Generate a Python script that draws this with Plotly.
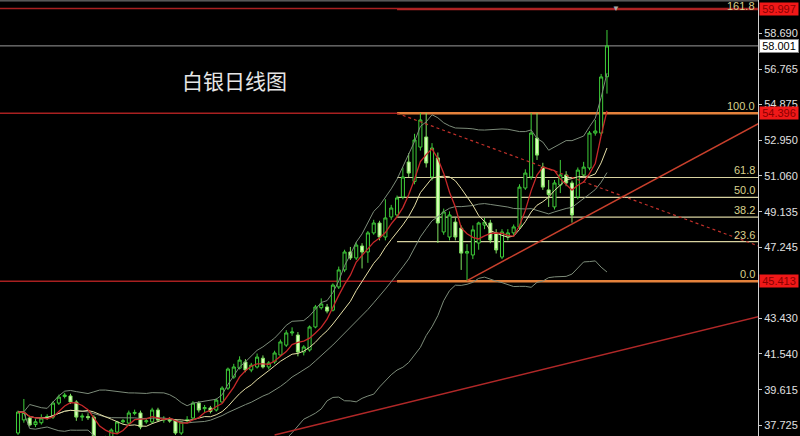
import plotly.graph_objects as go
import pandas as pd

# ---------------- data ----------------
opens = [37.30, 38.00, 38.10, 37.75, 37.85, 38.12, 38.15, 38.90, 39.25, 39.28,
         38.96, 38.15, 38.18, 38.15, 37.05, 36.85, 37.10, 37.35, 37.90, 37.83,
         38.35, 38.37, 37.90, 37.89, 38.53, 37.99, 38.00, 37.99, 37.30, 37.95,
         38.10, 38.90, 38.60, 38.64, 38.53, 38.96, 39.70, 40.29, 40.77, 41.10,
         40.67, 40.83, 41.30, 40.83, 41.10, 41.47, 42.00, 42.65, 42.54, 41.63,
         41.74, 42.97, 44.00, 44.04, 43.87, 45.11, 46.02, 46.98, 46.66, 47.30,
         46.98, 48.00, 48.53, 47.78, 48.85, 48.96, 49.92, 51.79, 50.75, 52.59,
         53.13, 50.99, 52.01, 48.05, 47.78, 48.58, 48.26, 46.92, 46.82, 47.46,
         48.42, 48.53, 48.00, 46.71, 47.78, 48.00, 48.32, 50.40, 50.99, 53.07,
         51.52, 50.30, 49.39, 50.56, 51.10, 50.67, 49.92, 51.10, 51.47, 53.34,
         53.34, 56.35]
highs = [38.50, 39.12, 38.20, 38.05, 38.30, 38.30, 39.00, 39.35, 39.45, 39.40,
         39.05, 38.35, 38.35, 38.25, 37.10, 37.15, 37.55, 37.95, 38.05, 38.50,
         38.55, 38.50, 38.10, 38.65, 38.65, 38.20, 38.15, 38.05, 37.95, 38.20,
         39.00, 39.00, 38.80, 38.75, 39.15, 39.80, 40.80, 41.00, 41.40, 41.25,
         41.05, 41.55, 41.45, 41.15, 41.70, 42.30, 42.80, 42.95, 42.70, 42.00,
         43.05, 44.15, 44.50, 44.20, 45.30, 46.20, 47.10, 47.25, 47.50, 47.45,
         48.10, 48.70, 48.65, 49.80, 49.50, 50.00, 51.50, 52.27, 53.30, 54.41,
         54.41, 52.80, 52.30, 49.30, 49.15, 48.80, 48.40, 47.40, 48.40, 48.60,
         48.80, 48.70, 48.20, 48.20, 48.20, 48.45, 50.60, 51.40, 54.41, 54.41,
         51.75, 50.83, 50.83, 51.90, 51.30, 50.80, 51.50, 51.80, 53.45, 54.04,
         56.50, 58.85]
lows = [37.20, 37.85, 37.65, 37.62, 37.75, 38.00, 38.05, 38.80, 39.15, 38.85,
        37.95, 37.95, 38.00, 36.90, 36.60, 36.70, 37.00, 37.25, 37.80, 37.75,
        38.25, 37.50, 37.80, 37.80, 37.90, 37.85, 37.85, 37.20, 37.20, 37.85,
        38.00, 38.40, 38.40, 38.35, 38.45, 38.90, 39.60, 40.20, 40.70, 40.55,
        40.55, 40.75, 40.75, 40.70, 41.00, 41.40, 41.90, 42.50, 41.40, 41.45,
        41.65, 42.90, 43.90, 43.70, 43.80, 45.00, 45.90, 46.55, 46.55, 46.10,
        46.40, 47.90, 47.60, 47.60, 48.70, 48.80, 49.80, 50.99, 50.60, 52.40,
        51.50, 50.80, 47.46, 47.90, 47.60, 47.60, 46.02, 45.43, 46.60, 47.10,
        48.20, 47.45, 46.90, 46.60, 47.60, 47.85, 48.20, 50.30, 50.85, 51.90,
        50.30, 49.39, 49.25, 50.13, 50.50, 48.55, 49.80, 51.00, 51.35, 53.20,
        53.20, 55.45]
closes = [38.42, 38.40, 37.73, 37.90, 38.10, 38.18, 38.90, 39.22, 39.33, 38.96,
          38.15, 38.20, 38.12, 37.10, 36.80, 37.05, 37.46, 37.89, 37.95, 38.37,
          38.40, 37.62, 37.95, 38.53, 37.99, 38.03, 37.95, 37.30, 37.89, 38.00,
          38.90, 38.53, 38.66, 38.45, 39.06, 39.70, 40.72, 40.83, 41.20, 40.67,
          40.93, 41.36, 40.83, 41.05, 41.58, 42.17, 42.65, 42.70, 41.63, 41.90,
          42.97, 44.04, 44.20, 43.82, 45.21, 46.02, 46.98, 46.66, 47.35, 46.98,
          48.00, 48.53, 47.78, 48.80, 49.33, 49.87, 50.99, 51.20, 52.97, 54.04,
          51.74, 52.54, 48.53, 49.12, 48.96, 47.78, 46.92, 47.00, 48.16, 48.53,
          48.58, 47.62, 47.09, 48.05, 48.00, 48.32, 50.45, 51.20, 53.34, 52.16,
          50.45, 50.05, 50.67, 51.10, 50.67, 48.96, 51.36, 51.52, 53.34, 53.45,
          56.34, 58.00]
bar_index = list(range(len(closes)))

tick_vals = [58.690, 56.765, 54.875, 52.950, 51.060, 49.135, 47.245,
             43.430, 41.540, 39.615, 37.725]
tick_text = ["58.690", "56.765", "54.875", "52.950", "51.060", "49.135", "47.245",
             "43.430", "41.540", "39.615", "37.725"]

fib_ratios = [0.0, 23.6, 38.2, 50.0, 61.8, 100.0, 161.8]
fib_labels = ["0.0", "23.6", "38.2", "50.0", "61.8", "100.0", "161.8"]
fib_low = 45.413
fib_high = 54.396
fib_start_bar = 65

red_levels = [59.997, 54.396, 45.413]
red_labels = ["59.997", "54.396", "45.413"]
current_price = 58.001

trend_dash_x = [65, 127]
trend_dash_y = [54.40, 47.30]
trend_up_x = [77, 127]
trend_up_y = [45.45, 53.85]
trend_low_x = [44, 127]
trend_low_y = [37.19, 43.52]

title_text = "白银日线图"

# ---------------- indicators ----------------
s = pd.Series(closes)
ma5 = s.rolling(5, min_periods=1).mean()
ma10 = s.rolling(10, min_periods=1).mean()
mid20 = s.rolling(20, min_periods=1).mean()
sd20 = s.rolling(20, min_periods=1).std(ddof=0)
upper = mid20 + 2 * sd20
lower = mid20 - 2 * sd20

X_RANGE = [-3.09, 126.9]
Y_RANGE = [37.14, 60.455]

fig = go.Figure()

band_col = "#7d8c7a"
fig.add_trace(go.Scatter(x=bar_index, y=upper, mode="lines", line=dict(color=band_col, width=1), hoverinfo="skip"))
fig.add_trace(go.Scatter(x=bar_index, y=lower, mode="lines", line=dict(color=band_col, width=1), hoverinfo="skip"))
fig.add_trace(go.Scatter(x=bar_index, y=mid20, mode="lines", line=dict(color=band_col, width=1), hoverinfo="skip"))
fig.add_trace(go.Scatter(x=bar_index, y=ma10, mode="lines", line=dict(color="#e6dfa6", width=1), hoverinfo="skip"))
fig.add_trace(go.Scatter(x=bar_index, y=ma5, mode="lines", line=dict(color="#c8282a", width=1.3), hoverinfo="skip"))

shapes = []
for lv in red_levels:
    shapes.append(dict(type="line", xref="paper", x0=0, x1=1, yref="y", y0=lv, y1=lv,
                       line=dict(color="#a82020", width=1.5), layer="below"))
shapes.append(dict(type="line", xref="paper", x0=0, x1=1, yref="y", y0=current_price, y1=current_price,
                   line=dict(color="#9a9a9a", width=1), layer="below"))
shapes.append(dict(type="line", xref="paper", x0=0, x1=1, yref="paper", y0=0.998, y1=0.998,
                   line=dict(color="#8a8a8a", width=1)))

annotations = []
for r, lab in zip(fib_ratios, fib_labels):
    lv = fib_low + (fib_high - fib_low) * r / 100.0
    if r in (0.0, 100.0):
        col, w = "#e5823c", 2.5
    elif r > 100:
        col, w = "#b02424", 1.5
    else:
        col, w = "#d8d2a0", 1.2
    shapes.append(dict(type="line", xref="x", x0=fib_start_bar, x1=X_RANGE[1], yref="y", y0=lv, y1=lv,
                       line=dict(color=col, width=w), layer="below"))
    annotations.append(dict(xref="paper", x=1.0, xanchor="right", yref="y", y=lv, yanchor="bottom",
                            text=lab, showarrow=False, font=dict(family="Liberation Sans", size=11, color="#d8d08e"),
                            xshift=-1, yshift=(-5 if r > 100 else -1)))

fig.add_trace(go.Scatter(x=trend_dash_x, y=trend_dash_y, mode="lines",
                         line=dict(color="#c0302a", width=1.2, dash="3px,3px"), hoverinfo="skip"))
fig.add_trace(go.Scatter(x=trend_up_x, y=trend_up_y, mode="lines",
                         line=dict(color="#c8402c", width=1.5), hoverinfo="skip"))
fig.add_trace(go.Scatter(x=trend_low_x, y=trend_low_y, mode="lines",
                         line=dict(color="#b02828", width=1.5), hoverinfo="skip"))

fig.add_trace(go.Candlestick(
    x=bar_index, open=opens, high=highs, low=lows, close=closes,
    increasing=dict(line=dict(color="#3fcf3a", width=1), fillcolor="#000000"),
    decreasing=dict(line=dict(color="#7fe060", width=1), fillcolor="#d8ffb8"),
    whiskerwidth=0, hoverinfo="skip"))

for lv, lab in zip(red_levels, red_labels):
    annotations.append(dict(xref="paper", x=1.0, xanchor="left", xshift=1, yref="y", y=lv, yanchor="middle",
                            text=lab, showarrow=False, bgcolor="#f01818", width=38, height=12,
                            font=dict(family="Liberation Sans", size=11, color="#8a0000"), borderpad=0))
annotations.append(dict(xref="paper", x=1.0, xanchor="left", xshift=1, yref="y", y=current_price, yanchor="middle",
                        text=f"{current_price:.3f}", showarrow=False, bgcolor="#ffffff", width=38, height=12,
                        bordercolor="#888888", borderwidth=1, borderpad=0,
                        font=dict(family="Liberation Sans", size=11, color="#000000")))

annotations.append(dict(xref="paper", x=0.309, yref="paper", y=0.8165, text=title_text, showarrow=False,
                        xanchor="center", yanchor="middle",
                        font=dict(family="Noto Sans CJK SC", size=21, color="#e6e6e6")))
annotations.append(dict(xref="paper", x=0.8206, yref="paper", y=1.0, yanchor="top", text="▼", showarrow=False,
                        font=dict(size=8, color="#aaaaaa")))

fig.update_layout(
    width=800, height=436,
    margin=dict(l=0, r=42, t=0, b=0),
    paper_bgcolor="#000000", plot_bgcolor="#000000",
    showlegend=False,
    shapes=shapes, annotations=annotations,
    boxgap=0.25,
    xaxis=dict(range=X_RANGE, visible=False, rangeslider=dict(visible=False), fixedrange=True),
    yaxis=dict(range=Y_RANGE, side="right", showgrid=False, zeroline=False,
               tickvals=tick_vals, ticktext=tick_text, ticks="outside", ticklen=3,
               tickcolor="#c8c8c8", showline=True, linecolor="#d0d0d0", linewidth=1,
               tickfont=dict(family="Liberation Sans", size=11, color="#e0e0e0"), fixedrange=True),
)

fig.write_html("out.html", config={"displayModeBar": False},
               post_script="document.body.style.margin='0';document.body.style.background='#000';")
